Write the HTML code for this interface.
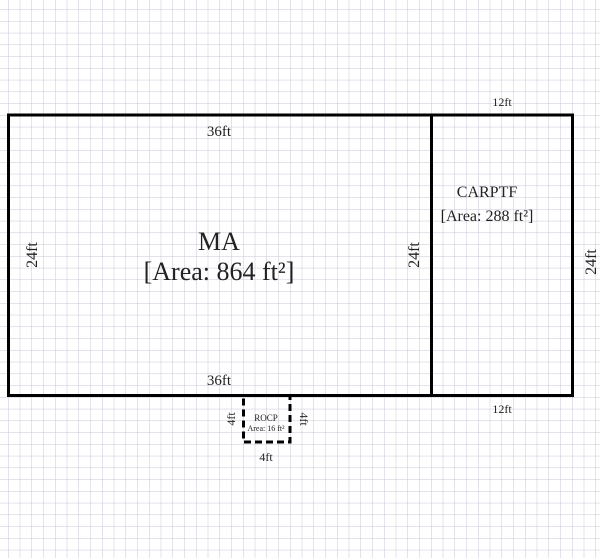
<!DOCTYPE html>
<html><head><style>html,body{margin:0;padding:0;background:#fff}svg{display:block}</style></head>
<body>
<svg width="600" height="558" xmlns="http://www.w3.org/2000/svg" font-family="'Liberation Serif', serif" fill="#222">
<defs>
<pattern id="g" x="8" y="9.3" width="11.75" height="11.75" patternUnits="userSpaceOnUse">
<path d="M0 0H11.75M0 0V11.75" stroke="#c6c6d8" stroke-width="1" fill="none"/>
</pattern>
</defs>
<rect width="600" height="558" fill="#fff"/>
<rect width="600" height="558" fill="url(#g)"/>
<g stroke="#000" stroke-width="3" fill="none">
<rect x="8.5" y="115" width="423" height="280.5"/>
<rect x="431.5" y="115" width="141" height="280.5"/>
<rect x="243.5" y="395.5" width="46.5" height="46.5" stroke-dasharray="7,4"/>
</g>
<g text-anchor="middle">
<text x="219" y="136" font-size="15">36ft</text>
<text x="219" y="385" font-size="15">36ft</text>
<text x="502" y="106" font-size="12">12ft</text>
<text x="502" y="413" font-size="12">12ft</text>
<text x="219" y="250" font-size="26">MA</text>
<text x="219" y="280" font-size="26">[Area: 864 ft²]</text>
<text x="487" y="197" font-size="16">CARPTF</text>
<text x="487" y="221" font-size="16">[Area: 288 ft²]</text>
<text x="266" y="421" font-size="9">ROCP</text>
<text x="266" y="431" font-size="8">Area: 16 ft²</text>
<text x="266" y="461" font-size="12">4ft</text>
<text transform="translate(37 255) rotate(-90)" font-size="16">24ft</text>
<text transform="translate(419 255) rotate(-90)" font-size="16">24ft</text>
<text transform="translate(596 262) rotate(-90)" font-size="16">24ft</text>
<text transform="translate(235 419) rotate(-90)" font-size="12">4ft</text>
<text transform="translate(300 419) rotate(90)" font-size="12">4ft</text>
</g>
</svg>
</body></html>
